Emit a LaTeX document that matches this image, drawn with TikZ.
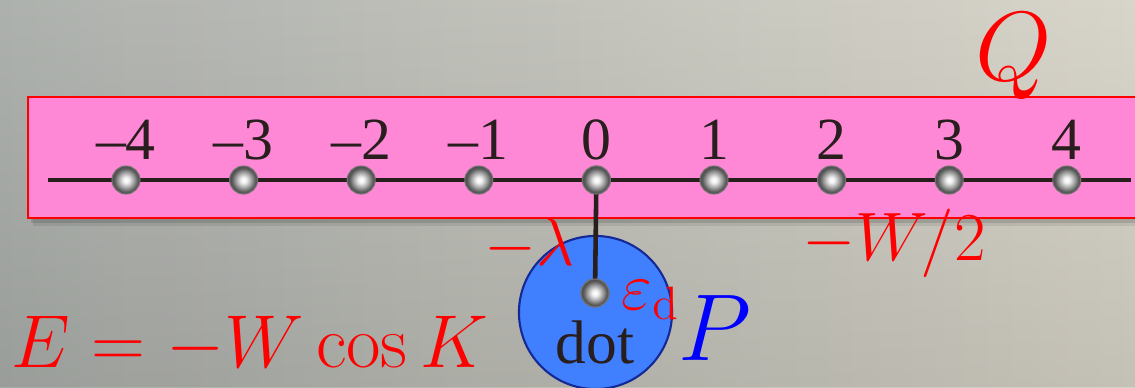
\RequirePackage{fix-cm}
\documentclass[tikz,border=0pt]{standalone}
\usepackage[no-math]{fontspec}
\setmainfont{Liberation Serif}
\definecolor{bgL}{RGB}{182,186,182}
\definecolor{bgR}{RGB}{232,228,215}
\definecolor{pinkfill}{RGB}{255,136,214}
\definecolor{chainc}{RGB}{40,30,28}
\definecolor{dotblue}{RGB}{64,128,255}
\definecolor{dotedge}{RGB}{20,40,150}
\definecolor{txtdark}{RGB}{40,30,30}
\pgfdeclareradialshading{siteball}{\pgfpoint{0bp}{0bp}}{color(0bp)=(white); color(5bp)=(white!90!gray); color(14bp)=(gray!75); color(21bp)=(gray!70!black); color(25bp)=(black!70); color(50bp)=(black!70)}
\tikzset{
  site/.style={circle, minimum size=0.28cm, inner sep=0pt, shading=siteball, draw=black!55, line width=0.3pt},
  chain/.style={draw=chainc, line width=1.3pt},
  digit/.style={font=\fontsize{17pt}{20pt}\selectfont, text=txtdark, inner sep=0pt, anchor=base},
  redmath/.style={text=red, inner sep=0pt, anchor=base},
  dotcirc/.style={circle, minimum size=1.53cm, inner sep=0pt, fill=dotblue, draw=dotedge, line width=0.6pt},
}
\begin{document}
\begin{tikzpicture}[x=0.01cm,y=-0.01cm]
\useasboundingbox (0,0) rectangle (1135,387);
\fill[left color=bgL, right color=bgR] (0,0) rectangle (1135,387);
\fill[top color=black!0, bottom color=black, opacity=0.08] (0,0) rectangle (1135,387);
% shadow of the band
\fill[black, opacity=0.12] (31,100) rectangle (1135,223);
\fill[black, opacity=0.08] (33,102) rectangle (1135,226);
% band
\draw[red, fill=pinkfill, line width=0.7pt] (28,97) rectangle (1140,218);
% chain
\coordinate (L) at (48,180);
\coordinate (R) at (1131,180);
\draw[chain] (L) -- (R);
% dot
\node[dotcirc] (dotc) at (595.5,312.5) {};
\node[site] (dball) at (595,293) {};
\foreach \lab [count=\k from 0] in {–4,–3,–2,–1,0,1,2,3,4} {
  \node[site] (b\k) at ({126+117.6*\k},180) {};
  \node[digit] (t\k) at ({126+117.6*\k},159) {\lab};
}
\draw[chain] (b4.center) -- (dball.center);
\node[site] at (b4) {};
\node[site] at (dball) {};
% labels
\node[text=txtdark, inner sep=0pt, anchor=base, font=\fontsize{17.5pt}{20pt}\selectfont] (dotlab) at (595,363) {dot};
\node[redmath, anchor=base west, font=\fontsize{19pt}{22pt}\selectfont] (eps) at (621,309) {$\varepsilon_{\mathrm{d}}$};
\node[text=blue, inner sep=0pt, anchor=base west, font=\fontsize{27pt}{30pt}\selectfont] (P) at (678,360) {$P$};
\node[redmath, font=\fontsize{28pt}{32pt}\selectfont] (Q) at (1014,80) {$Q$};
\node[redmath, font=\fontsize{19.5pt}{24pt}\selectfont] (W2) at (894,260) {$-W/2$};
\node[redmath, font=\fontsize{19pt}{24pt}\selectfont] (lam) at (530,265) {$-\lambda$};
\node[redmath, font=\fontsize{21.3pt}{26pt}\selectfont] (disp) at (250,367) {$E=-W\cos K$};
\end{tikzpicture}
\end{document}
